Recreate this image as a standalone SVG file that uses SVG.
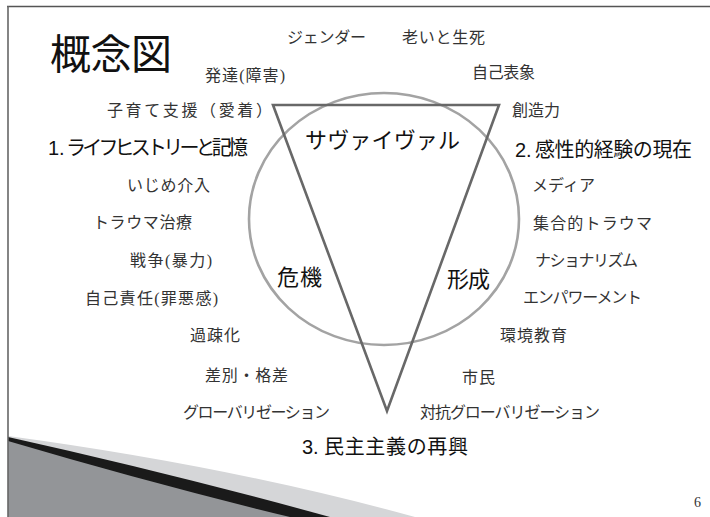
<svg xmlns="http://www.w3.org/2000/svg" width="710" height="517" viewBox="0 0 710 517">
<style>
.s{font-family:"Liberation Serif","Noto Sans CJK JP",serif;font-size:16px;fill:#333;dominant-baseline:central}
.b{font-family:"Liberation Sans","Noto Sans CJK JP",sans-serif;font-size:20px;fill:#111;dominant-baseline:central}
.m{font-family:"Noto Sans CJK JP",sans-serif;font-size:22px;fill:#111;dominant-baseline:central}
</style>
<rect x="0" y="0" width="710" height="517" fill="#fff"/>
<g id="frame">
<path d="M8,436 Q230,466 415,517 L8,517 Z" fill="#d5d6d8"/>
<path d="M8,437 Q170,473 330,517 L8,517 Z" fill="#1a1a1a"/>
<path d="M8,441 Q150,483 290,517 L8,517 Z" fill="#939598"/>
<line x1="7" y1="6.5" x2="710" y2="6.5" stroke="#555" stroke-width="1.6"/>
<line x1="8" y1="6" x2="8" y2="517" stroke="#666" stroke-width="1.6"/>
</g>
<g id="connectors">
<ellipse cx="384" cy="219" rx="135" ry="126" fill="none" stroke="#a3a3a3" stroke-width="2.6"/>
<polygon points="273,105 499,105 387,411" fill="none" stroke="#686868" stroke-width="2.6" stroke-linejoin="miter"/>
</g>
<g id="title"><text x="50" y="51" font-family="Noto Sans CJK JP,sans-serif" font-size="41" fill="#111" dominant-baseline="central" textLength="122">概念図</text></g>
<g id="n-gender"><text class="s" x="287" y="37" textLength="79">ジェンダー</text></g>
<g id="n-oi"><text class="s" x="402" y="37" textLength="83">老いと生死</text></g>
<g id="n-hattatsu"><text class="s" x="205" y="75" textLength="80">発達(障害)</text></g>
<g id="n-jiko"><text class="s" x="472" y="72" textLength="63">自己表象</text></g>
<g id="n-kosodate"><text class="s" x="107" y="110" font-size="17" textLength="165">子育て支援（愛着）</text></g>
<g id="n-sozo"><text class="s" x="512" y="110" textLength="48">創造力</text></g>
<g id="n-1"><text class="b" x="48" y="148">1.</text><text class="b" x="66" y="148" font-size="16.5" textLength="182">ライフヒストリーと記憶</text></g>
<g id="n-2"><text class="b" x="515" y="150">2.</text><text class="b" x="535" y="150" textLength="157">感性的経験の現在</text></g>
<g id="n-survival"><text class="m" x="305" y="138" textLength="155">サヴァイヴァル</text></g>
<g id="n-ijime"><text class="s" x="127" y="185" textLength="83">いじめ介入</text></g>
<g id="n-trauma"><text class="s" x="93" y="222" textLength="99">トラウマ治療</text></g>
<g id="n-senso"><text class="s" x="130" y="260" textLength="82">戦争(暴力)</text></g>
<g id="n-sekinin"><text class="s" x="85" y="298" textLength="133">自己責任(罪悪感)</text></g>
<g id="n-kaso"><text class="s" x="190" y="335" textLength="50">過疎化</text></g>
<g id="n-kiki"><text class="m" x="277" y="275" textLength="45">危機</text></g>
<g id="n-media"><text class="s" x="532" y="185" textLength="63">メディア</text></g>
<g id="n-shugo"><text class="s" x="533" y="223" textLength="119">集合的トラウマ</text></g>
<g id="n-nation"><text class="s" x="535" y="260" textLength="103">ナショナリズム</text></g>
<g id="n-empower"><text class="s" x="523" y="297" textLength="119">エンパワーメント</text></g>
<g id="n-kankyo"><text class="s" x="500" y="335" textLength="67">環境教育</text></g>
<g id="n-keisei"><text class="m" x="447" y="277" textLength="43">形成</text></g>
<g id="n-sabetsu"><text class="s" x="205" y="375" textLength="83">差別・格差</text></g>
<g id="n-global"><text class="s" x="183" y="412" textLength="147">グローバリゼーション</text></g>
<g id="n-3"><text class="b" x="302" y="447">3.</text><text class="b" x="324" y="447" textLength="144">民主主義の再興</text></g>
<g id="n-shimin"><text class="s" x="462" y="377" textLength="33">市民</text></g>
<g id="n-taiko"><text class="s" x="420" y="412" textLength="180">対抗グローバリゼーション</text></g>
<g id="page"><text x="694" y="502" font-family="Liberation Serif,serif" font-size="14" fill="#333" dominant-baseline="central">6</text></g>
</svg>
